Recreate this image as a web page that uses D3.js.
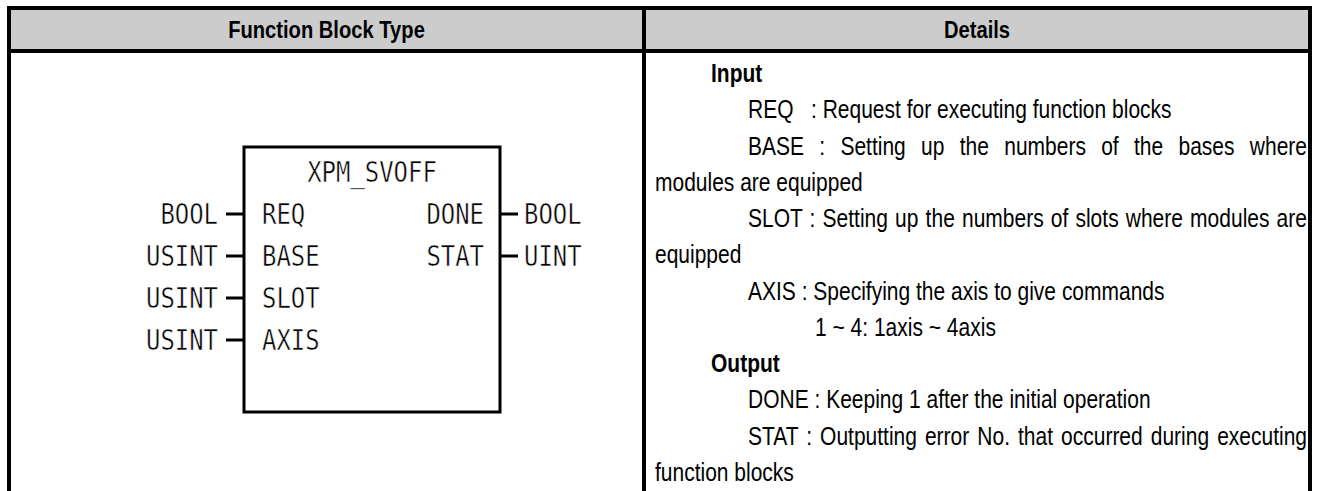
<!DOCTYPE html>
<html><head><meta charset="utf-8">
<script src="https://cdn.jsdelivr.net/npm/d3@7"></script>
<style>html,body{margin:0;padding:0;background:#fff;}svg{display:block;}</style>
</head><body>
<svg id="c" width="1322" height="491"></svg>
<script>
// ---- data ----
const headers = ["Function Block Type", "Details"];
const blockName = "XPM_SVOFF";
const inputTypes = ["BOOL", "USINT", "USINT", "USINT"];
const inputNames = ["REQ", "BASE", "SLOT", "AXIS"];
const outputNames = ["DONE", "STAT"];
const outputTypes = ["BOOL", "UINT"];
const detailTexts = [
  "Input",
  "REQ   : Request for executing function blocks",
  "BASE : Setting up the numbers of the bases where",
  "modules are equipped",
  "SLOT : Setting up the numbers of slots where modules are",
  "equipped",
  "AXIS : Specifying the axis to give commands",
  "1 ~ 4: 1axis ~ 4axis",
  "Output",
  "DONE : Keeping 1 after the initial operation",
  "STAT : Outputting error No. that occurred during executing",
  "function blocks"
];
const detailLevels = [1, 2, 2, 0, 2, 0, 2, 3, 1, 2, 2, 0];
const detailBold = [true, false, false, false, false, false, false, false, true, false, false, false];
const detailJustify = [false, false, true, false, true, false, false, false, false, false, true, false];

// ---- layout ----
const svg = d3.select("#c");
const W = 1322, H = 491;
const xL = 9, xDiv = 644, xR = 1310, yTop = 8, yHead = 51;
const border = 4;

svg.append("rect").attr("x", xL).attr("y", yTop).attr("width", xR - xL).attr("height", yHead - yTop).attr("fill", "#cccccc");

const lines = [
  [xL, yTop - 2, xL, H], [xDiv, yTop, xDiv, H], [xR, yTop - 2, xR, H],
  [xL - 2, yTop, xR + 2, yTop], [xL - 2, yHead, xR + 2, yHead]
];
svg.selectAll("line.grid").data(lines).join("line").attr("class", "grid")
  .attr("x1", d => d[0]).attr("y1", d => d[1]).attr("x2", d => d[2]).attr("y2", d => d[3])
  .attr("stroke", "#000").attr("stroke-width", border);

const narrow = 0.84;
const sansFont = "'Liberation Sans', Arial, sans-serif";

function narrowText(g, x, y, str, size, bold, anchor) {
  return g.append("text")
    .attr("transform", `translate(${x},${y}) scale(${narrow},1)`)
    .attr("font-family", sansFont).attr("font-size", size)
    .attr("font-weight", bold ? "bold" : "normal")
    .attr("text-anchor", anchor || "start")
    .attr("fill", "#000")
    .style("white-space", "pre")
    .text(str);
}

const hx = d3.scalePoint().domain(headers).range([(xL + xDiv) / 2, (xDiv + xR) / 2]);
headers.forEach(h => narrowText(svg, hx(h), 38, h, 24, true, "middle"));

const rowY = d3.scaleLinear().domain([0, detailTexts.length - 1]).range([82, 481]);
const indentX = d3.scaleOrdinal().domain([0, 1, 2, 3]).range([655, 711, 748, 815]);
const rightEdge = xR - 3;
const fs = 25;
detailTexts.forEach((s, i) => {
  const x = indentX(detailLevels[i]);
  const t = narrowText(svg, x, rowY(i), s, fs, detailBold[i]);
  if (detailJustify[i]) {
    const natural = t.node().getComputedTextLength() * narrow;
    const spaces = (s.match(/ /g) || []).length;
    const target = rightEdge - x;
    if (spaces > 0 && natural < target) {
      t.attr("word-spacing", ((target - natural) / spaces / narrow).toFixed(2));
    }
  }
});

// ---- function block diagram ----
const g = svg.append("g");
const boxL = 244, boxR = 500, boxT = 147, boxB = 412;
g.append("rect").attr("x", boxL).attr("y", boxT).attr("width", boxR - boxL).attr("height", boxB - boxT)
  .attr("fill", "none").attr("stroke", "#000").attr("stroke-width", 3);

const pinY = d3.scaleLinear().domain([0, 3]).range([214, 340]);
const monoFont = "'DejaVu Sans Mono', monospace";
const monoSize = 28, charW = 14.4;
function monoText(x, y, str, anchor) {
  g.append("text").attr("x", x).attr("y", y).attr("dy", "0.36em")
    .attr("font-family", monoFont).attr("font-size", monoSize)
    .attr("text-anchor", anchor).attr("fill", "#000")
    .attr("stroke", "#fff").attr("stroke-width", 0.5)
    .attr("textLength", str.length * charW).attr("lengthAdjust", "spacingAndGlyphs")
    .text(str);
}
monoText((boxL + boxR) / 2, 172, blockName, "middle");

inputNames.forEach((n, i) => {
  const y = pinY(i);
  g.append("line").attr("x1", 226).attr("x2", boxL).attr("y1", y).attr("y2", y).attr("stroke", "#000").attr("stroke-width", 3);
  monoText(218, y, inputTypes[i], "end");
  monoText(262, y, n, "start");
});
outputNames.forEach((n, i) => {
  const y = pinY(i);
  g.append("line").attr("x1", boxR).attr("x2", boxR + 18).attr("y1", y).attr("y2", y).attr("stroke", "#000").attr("stroke-width", 3);
  monoText(484, y, n, "end");
  monoText(524, y, outputTypes[i], "start");
});
</script>
</body></html>
